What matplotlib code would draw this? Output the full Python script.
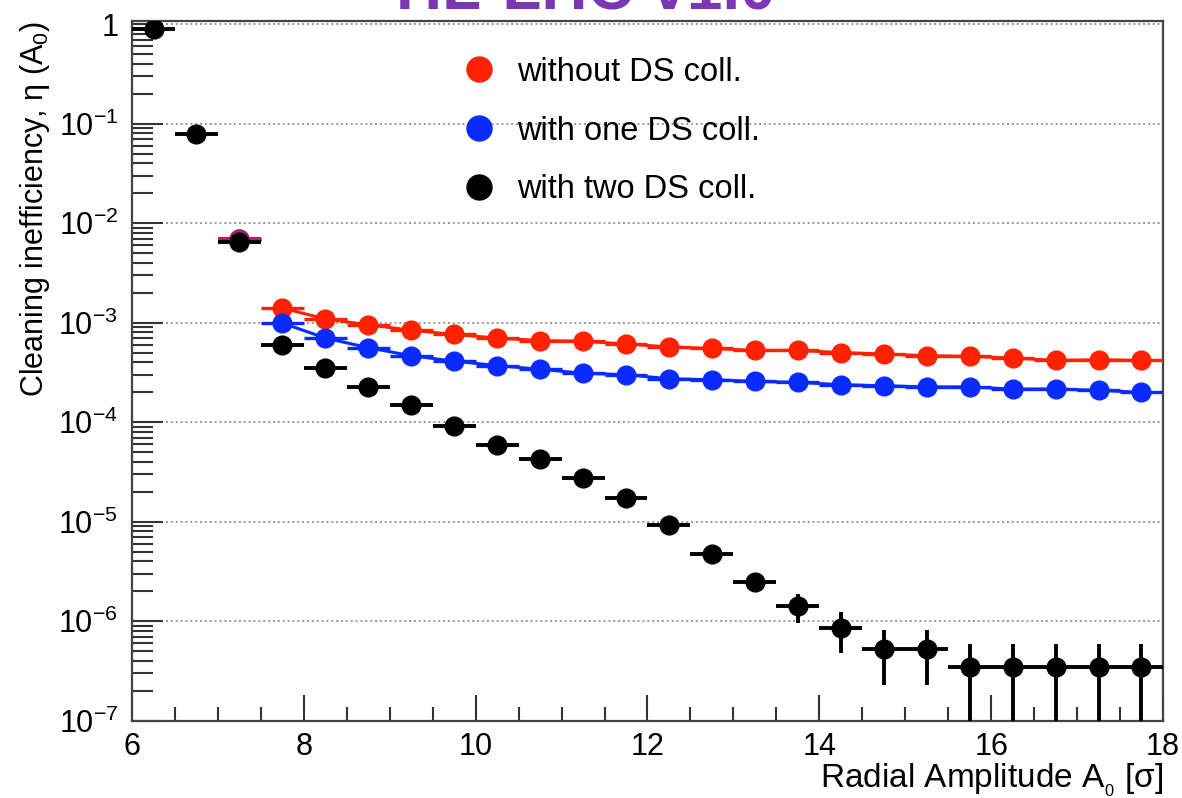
import numpy as np
import matplotlib
matplotlib.use("Agg")
import matplotlib.pyplot as plt
from matplotlib.ticker import FixedLocator, LogLocator, NullFormatter, FuncFormatter
from matplotlib.lines import Line2D

plt.rcParams['font.family'] = ['Liberation Sans', 'DejaVu Sans']
plt.rcParams['mathtext.default'] = 'regular'

# bin centres (bin width 0.5 sigma)
x_black = [6.25, 6.75, 7.25, 7.75, 8.25, 8.75, 9.25, 9.75, 10.25, 10.75, 11.25, 11.75,
           12.25, 12.75, 13.25, 13.75, 14.25, 14.75, 15.25, 15.75, 16.25, 16.75, 17.25, 17.75]
y_black = [0.89, 0.078, 0.0064, 6.0e-4, 3.5e-4, 2.25e-4, 1.47e-4, 9.1e-5, 5.9e-5, 4.3e-5,
           2.75e-5, 1.73e-5, 9.3e-6, 4.7e-6, 2.45e-6, 1.41e-6, 8.6e-7, 5.2e-7, 5.2e-7,
           3.43e-7, 3.43e-7, 3.43e-7, 3.43e-7, 3.43e-7]
yerr_black = [0.01, 0.002, 2e-4, 1.5e-5, 1.2e-5, 9e-6, 7e-6, 5.5e-6, 4.5e-6, 3.8e-6,
              3e-6, 2e-6, 0.8e-6, 0.5e-6, 2.8e-7, 4.5e-7, 3.8e-7, 2.9e-7, 2.9e-7,
              2.45e-7, 2.45e-7, 2.45e-7, 2.45e-7, 2.45e-7]

x_col = [7.25, 7.75, 8.25, 8.75, 9.25, 9.75, 10.25, 10.75, 11.25, 11.75, 12.25, 12.75,
         13.25, 13.75, 14.25, 14.75, 15.25, 15.75, 16.25, 16.75, 17.25, 17.75]
y_red = [0.0069, 1.40e-3, 1.09e-3, 9.5e-4, 8.4e-4, 7.6e-4, 7.0e-4, 6.6e-4, 6.5e-4, 6.1e-4,
         5.7e-4, 5.5e-4, 5.26e-4, 5.26e-4, 5.0e-4, 4.84e-4, 4.65e-4, 4.58e-4, 4.41e-4,
         4.17e-4, 4.24e-4, 4.17e-4]
y_blue = [0.0069, 9.9e-4, 7.0e-4, 5.6e-4, 4.65e-4, 4.1e-4, 3.7e-4, 3.4e-4, 3.1e-4, 3.0e-4,
          2.73e-4, 2.67e-4, 2.57e-4, 2.51e-4, 2.38e-4, 2.32e-4, 2.26e-4, 2.26e-4, 2.15e-4,
          2.15e-4, 2.09e-4, 1.99e-4]

labels = ["without DS coll.", "with one DS coll.", "with two DS coll."]
red = '#ff2200'
blue = '#0a2bff'

fig = plt.figure(figsize=(11.82, 7.98), dpi=100)
ax = fig.add_axes([0.1117, 0.0969, 0.8722, 0.8774])

# red / blue : line through points + horizontal bin bars
ax.errorbar(x_col, y_red, xerr=0.25, fmt='o', color=red, ms=13.5, elinewidth=2.4,
            capsize=0, zorder=3)
ax.plot(x_col[1:], y_red[1:], color=red, lw=2.2, zorder=3)
ax.errorbar(x_col, y_blue, xerr=0.25, fmt='o', color=blue, ms=13.5, elinewidth=2.4,
            capsize=0, zorder=3)
ax.plot(x_col[1:], y_blue[1:], color=blue, lw=2.2, zorder=3)
# overlap of red and blue at the first bin looks magenta
ax.errorbar(x_col[:1], y_red[:1], xerr=0.25, fmt='o', color='#b0206a', ms=13.5,
            elinewidth=3, capsize=0, zorder=3)
ax.errorbar(x_black, y_black, xerr=0.25, yerr=yerr_black, fmt='o', color='black', ms=13.5,
            elinewidth=2.8, capsize=0, zorder=4)

ax.set_yscale('log')
ax.set_xlim(6, 18)
ax.set_ylim(1e-7, 1.087)

ax.xaxis.set_major_locator(FixedLocator([6, 8, 10, 12, 14, 16, 18]))
ax.xaxis.set_minor_locator(FixedLocator(np.arange(6.5, 18, 0.5)))
ax.yaxis.set_major_locator(LogLocator(base=10, numticks=20))
ax.yaxis.set_minor_locator(LogLocator(base=10, subs=np.arange(2, 10), numticks=20))
ax.yaxis.set_minor_formatter(NullFormatter())


def fmt_y(v, pos):
    e = int(round(np.log10(v)))
    if e == 0:
        return '1'
    return r'$10^{%d}$' % e


ax.yaxis.set_major_formatter(FuncFormatter(fmt_y))
ax.tick_params(which='both', direction='in', top=False, right=False, labelsize=22,
               width=1.5, color='#333333')
ax.tick_params(axis='x', which='major', length=19, pad=8)
ax.tick_params(axis='x', which='minor', length=10)
ax.tick_params(axis='y', which='major', length=22, pad=10)
ax.tick_params(axis='y', which='minor', length=15)

ax.grid(axis='y', which='major', linestyle=(0, (1, 1.5)), color='#999999', lw=1.4)
for s in ax.spines.values():
    s.set_linewidth(1.6)
    s.set_color('#444444')

ax.set_xlabel(r'Radial Amplitude A$_{_0}$ [σ]', fontsize=24, loc='right', labelpad=0)
ax.set_ylabel(r'Cleaning inefficiency, η (A$_0$)', fontsize=22, loc='top')
ax.yaxis.set_label_coords(-0.078, 1.0)

handles = [Line2D([], [], marker='o', ls='', color=c, ms=18) for c in [red, blue, 'black']]
ax.legend(handles, labels, loc='upper left', bbox_to_anchor=(0.29, 0.99), frameon=False,
          fontsize=23.5, handletextpad=0.6, labelspacing=0.85, handlelength=1.15)

# cut-off slide title at the top
fig.text(0.335, 0.9875, 'HL-LHC v1.0', color='#7b36b4', fontsize=46, fontweight='bold',
         ha='left', va='baseline')

fig.savefig('out.png', dpi=100)
